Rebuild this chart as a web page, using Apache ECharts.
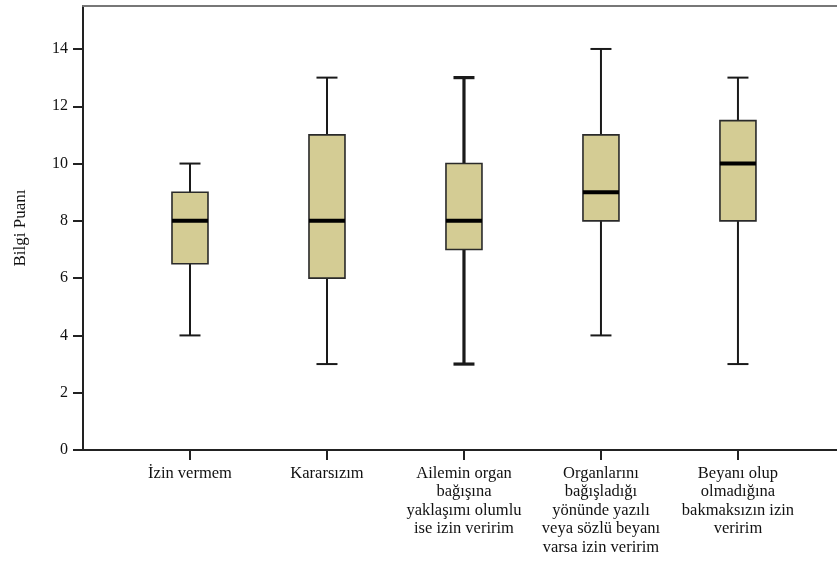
<!DOCTYPE html>
<html><head><meta charset="utf-8">
<script src="https://cdn.jsdelivr.net/npm/echarts@6/dist/echarts.min.js"></script>
<style>html,body{margin:0;padding:0;background:#fff}#c{width:837px;height:562px}</style>
</head><body><div id="c"></div>
<script>
const categories = [
  "İzin vermem",
  "Kararsızım",
  "Ailemin organ\nbağışına\nyaklaşımı olumlu\nise izin veririm",
  "Organlarını\nbağışladığı\nyönünde yazılı\nveya sözlü beyanı\nvarsa izin veririm",
  "Beyanı olup\nolmadığına\nbakmaksızın izin\nveririm"
];
const positions = [1, 2, 3, 4, 5];
const mins    = [4, 3, 3, 4, 3];
const q1s     = [6.5, 6, 7, 8, 8];
const medians = [8, 8, 8, 9, 10];
const q3s     = [9, 11, 10, 11, 11.5];
const maxs    = [10, 13, 13, 14, 13];
const yTicks  = [0, 2, 4, 6, 8, 10, 12, 14];

const whiskerWidth = [2, 2, 3.2, 2, 2];
const FONT = '"Liberation Serif", "DejaVu Serif", serif';

const data = positions.map((p, i) => [p, mins[i], q1s[i], medians[i], q3s[i], maxs[i]]);

const chart = echarts.init(document.getElementById('c'), null, {renderer: 'canvas'});
chart.setOption({
  animation: false,
  backgroundColor: '#fff',
  grid: {left: 83, right: 0, top: 6, bottom: 112, containLabel: false, outerBoundsMode: 'none'},
  xAxis: [{
    type: 'value', min: 0.219, max: 5.723, position: 'bottom',
    splitLine: {show: false},
    axisLine: {show: true, onZero: false, lineStyle: {color: '#222', width: 2}},
    axisTick: {show: true, customValues: positions, length: 10, lineStyle: {color: '#222', width: 2}},
    axisLabel: {
      customValues: positions, margin: 14, hideOverlap: false,
      formatter: v => categories[Math.round(v) - 1] || '',
      fontFamily: FONT, fontSize: 16.5, lineHeight: 18.5, color: '#111', align: 'center'
    }
  }, {
    type: 'value', min: 0.219, max: 5.723, position: 'top',
    splitLine: {show: false},
    axisLine: {show: true, onZero: false, lineStyle: {color: '#777', width: 2}},
    axisTick: {show: false}, axisLabel: {show: false}
  }],
  yAxis: {
    type: 'value', min: 0, max: 15.5,
    name: 'Bilgi Puanı', nameLocation: 'middle', nameGap: 54, nameRotate: 90,
    nameTextStyle: {fontFamily: FONT, fontSize: 17, color: '#111'},
    splitLine: {show: false},
    axisLine: {show: true, onZero: false, lineStyle: {color: '#222', width: 2}},
    axisTick: {show: true, customValues: yTicks, length: 10, lineStyle: {color: '#222', width: 2}},
    axisLabel: {customValues: yTicks, margin: 15, fontFamily: FONT, fontSize: 16, color: '#111'}
  },
  series: [{
    type: 'custom',
    xAxisIndex: 0,
    data: data,
    encode: {x: 0, y: [1, 2, 3, 4, 5]},
    renderItem: function (params, api) {
      const x = api.value(0);
      const pMin = api.coord([x, api.value(1)]);
      const pQ1 = api.coord([x, api.value(2)]);
      const pMed = api.coord([x, api.value(3)]);
      const pQ3 = api.coord([x, api.value(4)]);
      const pMax = api.coord([x, api.value(5)]);
      const cx = pMin[0];
      const bw = 36, cw = 21;
      const ww = whiskerWidth[params.dataIndex];
      const stroke = {stroke: '#1a1a1a', lineWidth: ww};
      return {
        type: 'group',
        children: [
          {type: 'line', shape: {x1: cx, y1: pMin[1], x2: cx, y2: pQ1[1]}, style: stroke},
          {type: 'line', shape: {x1: cx, y1: pQ3[1], x2: cx, y2: pMax[1]}, style: stroke},
          {type: 'line', shape: {x1: cx - cw / 2, y1: pMin[1], x2: cx + cw / 2, y2: pMin[1]}, style: stroke},
          {type: 'line', shape: {x1: cx - cw / 2, y1: pMax[1], x2: cx + cw / 2, y2: pMax[1]}, style: stroke},
          {type: 'rect', shape: {x: cx - bw / 2, y: pQ3[1], width: bw, height: pQ1[1] - pQ3[1]},
           style: {fill: '#d4cc94', stroke: '#2a2a2a', lineWidth: 1.6}},
          {type: 'line', shape: {x1: cx - bw / 2, y1: pMed[1], x2: cx + bw / 2, y2: pMed[1]},
           style: {stroke: '#000', lineWidth: 4}}
        ]
      };
    }
  }]
});
</script>
</body></html>
